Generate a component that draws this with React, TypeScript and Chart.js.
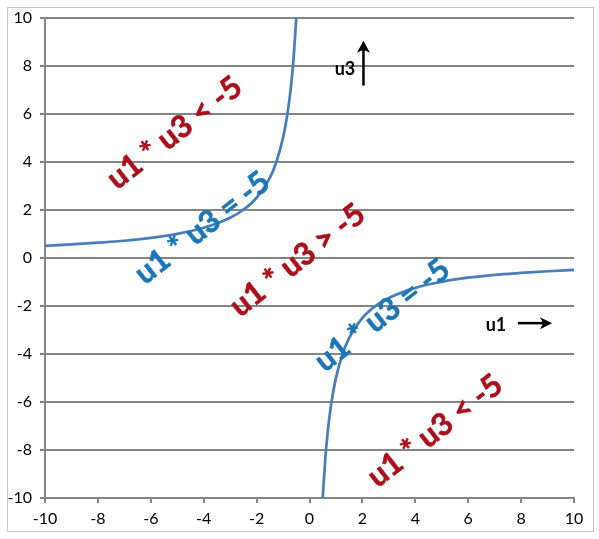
import React, { useEffect, useRef } from "react";
import { Chart, registerables } from "chart.js";

Chart.register(...registerables);

// Curve u1 * u3 = -5
const leftU1 = [-10, -9, -8, -7, -6, -5, -4, -3, -2.5, -2, -1.5, -1.25, -1, -0.9, -0.8, -0.7, -0.6, -0.5];
const leftU3 = [0.5, 0.56, 0.63, 0.71, 0.83, 1.0, 1.25, 1.67, 2.0, 2.5, 3.33, 4.0, 5.0, 5.56, 6.25, 7.14, 8.33, 10];
const rightU1 = [0.5, 0.6, 0.7, 0.8, 0.9, 1, 1.25, 1.5, 2, 2.5, 3, 4, 5, 6, 7, 8, 9, 10];
const rightU3 = [-10, -8.33, -7.14, -6.25, -5.56, -5, -4, -3.33, -2.5, -2, -1.67, -1.25, -1, -0.83, -0.71, -0.63, -0.56, -0.5];

// Axis ranges / ticks
const xMin = -10, xMax = 10, xStep = 2;
const yMin = -10, yMax = 10, yStep = 2;

// Rotated annotations (text, u1, u3, kind)
const noteTexts = ["u1 * u3 < -5", "u1 * u3 = -5", "u1 * u3 > -5", "u1 * u3 = -5", "u1 * u3 < -5"];
const noteU1 = [-5.1, -4.05, -0.45, 2.75, 4.75];
const noteU3 = [5.2, 1.25, -0.1, -2.4, -7.2];
const noteKind = ["region", "curve", "region", "curve", "region"];

// Axis direction labels
const axisLabels = ["u3", "u1"];
const axisLabelU1 = [1.34, 7.05];
const axisLabelU3 = [7.84, -2.81];

const RED = "#ad0f1c";
const BLUE = "#1b77b6";
const GRID = "#868686";

export default function App() {
  const ref = useRef<HTMLCanvasElement | null>(null);

  useEffect(() => {
    const canvas = ref.current!;
    const toPts = (xs: number[], ys: number[]) => xs.map((x, i) => ({ x, y: ys[i] }));

    const annot = {
      id: "annot",
      beforeDraw(chart: any) {
        const c = chart.ctx;
        c.save();
        c.fillStyle = "#ffffff";
        c.fillRect(0, 0, chart.width, chart.height);
        c.strokeStyle = "#c8c8c8";
        c.lineWidth = 1;
        c.strokeRect(7.5, 7.5, 586, 524);
        c.restore();
      },
      afterDatasetsDraw(chart: any) {
        const c = chart.ctx;
        const xs = chart.scales.x, ys = chart.scales.y;
        c.save();
        c.textAlign = "center";
        c.textBaseline = "middle";
        noteTexts.forEach((t, i) => {
          const px = xs.getPixelForValue(noteU1[i]);
          const py = ys.getPixelForValue(noteU3[i]);
          c.save();
          c.translate(px, py);
          c.rotate((-38 * Math.PI) / 180);
          c.font = "bold 31px Lato";
          const col = noteKind[i] === "curve" ? BLUE : RED;
          c.fillStyle = col;
          c.strokeStyle = col;
          c.lineWidth = 0.6;
          c.fillText(t, 0, 0);
          c.strokeText(t, 0, 0);
          c.restore();
        });
        // axis direction labels
        c.font = "bold 18px Lato";
        c.fillStyle = "#000";
        axisLabels.forEach((t, i) => {
          c.fillText(t, xs.getPixelForValue(axisLabelU1[i]), ys.getPixelForValue(axisLabelU3[i]));
        });
        // arrows
        c.strokeStyle = "#000";
        c.lineWidth = 2.5;
        // up arrow
        const ax = xs.getPixelForValue(2.04);
        const ay0 = ys.getPixelForValue(7.17), ay1 = ys.getPixelForValue(9.04);
        c.beginPath();
        c.moveTo(ax, ay0);
        c.lineTo(ax, ay1 + 8);
        c.stroke();
        c.beginPath();
        c.moveTo(ax, ay1);
        c.lineTo(ax - 6.5, ay1 + 12);
        c.lineTo(ax, ay1 + 9);
        c.lineTo(ax + 6.5, ay1 + 12);
        c.closePath();
        c.fillStyle = "#000";
        c.fill();
        // right arrow
        const by = ys.getPixelForValue(-2.72);
        const bx0 = xs.getPixelForValue(7.88), bx1 = xs.getPixelForValue(9.17);
        c.beginPath();
        c.moveTo(bx0, by);
        c.lineTo(bx1 - 8, by);
        c.stroke();
        c.beginPath();
        c.moveTo(bx1, by);
        c.lineTo(bx1 - 12, by - 6);
        c.lineTo(bx1 - 9, by);
        c.lineTo(bx1 - 12, by + 6);
        c.closePath();
        c.fill();
        c.restore();
      },
    };

    const chart = new Chart(canvas, {
      type: "scatter",
      data: {
        datasets: [
          {
            data: toPts(leftU1, leftU3),
            showLine: true,
            borderColor: "#4a7ebb",
            borderWidth: 2.75,
            pointRadius: 0,
            cubicInterpolationMode: "monotone",
          },
          {
            data: toPts(rightU1, rightU3),
            showLine: true,
            borderColor: "#4a7ebb",
            borderWidth: 2.75,
            pointRadius: 0,
            cubicInterpolationMode: "monotone",
          },
        ],
      },
      options: {
        animation: false,
        responsive: false,
        devicePixelRatio: 1,
        layout: { padding: { left: 0, right: 25, top: 17, bottom: 0 } },
        plugins: { legend: { display: false }, tooltip: { enabled: false } },
        scales: {
          x: {
            type: "linear",
            min: xMin,
            max: xMax,
            afterFit: (s: any) => { s.height = 41; },
            ticks: { stepSize: xStep, color: "#000", font: { family: "Lato", size: 16 }, padding: 6 },
            grid: { drawOnChartArea: false, drawTicks: true, tickLength: 5, color: GRID, lineWidth: 2 },
            border: { display: true, color: GRID, width: 2 },
          },
          y: {
            type: "linear",
            min: yMin,
            max: yMax,
            afterFit: (s: any) => { s.width = 45; },
            ticks: { stepSize: yStep, color: "#000", font: { family: "Lato", size: 16 }, padding: 8 },
            grid: { drawOnChartArea: true, drawTicks: true, tickLength: 5, color: GRID, lineWidth: 2 },
            border: { display: true, color: GRID, width: 2 },
          },
        },
      },
      plugins: [annot],
    } as any);

    return () => chart.destroy();
  }, []);

  return (
    <div style={{ position: "absolute", left: 0, top: 0, width: 599, height: 539 }}>
      <canvas ref={ref} width={599} height={539} style={{ display: "block" }} />
    </div>
  );
}
